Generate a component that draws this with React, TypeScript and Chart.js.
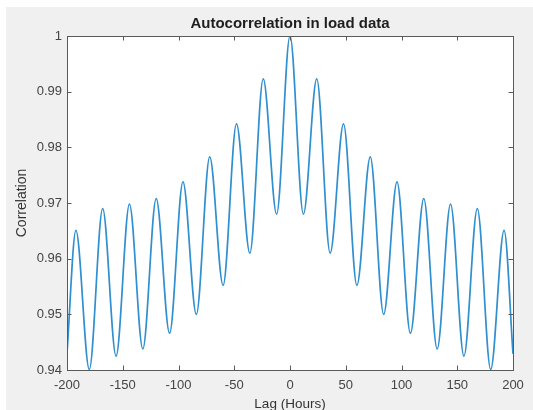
import React, { useEffect, useRef } from "react";
import { Chart, registerables } from "chart.js";

Chart.register(...registerables);

// ---- data ----
const lags = [
  -200, -192, -180, -168, -156, -144, -132, -120, -108, -96, -84, -72, -60, -48, -36, -24, -12,
  0,
  12, 24, 36, 48, 60, 72, 84, 96, 108, 120, 132, 144, 156, 168, 180, 192, 200,
];
const correlation = [
  0.9431, 0.9651, 0.9401, 0.969, 0.9425, 0.9698, 0.9438, 0.9708, 0.9466, 0.9738, 0.95, 0.9783, 0.9552, 0.9842, 0.961, 0.9923, 0.968,
  1.0,
  0.968, 0.9923, 0.961, 0.9842, 0.9552, 0.9783, 0.95, 0.9738, 0.9466, 0.9708, 0.9438, 0.9698, 0.9425, 0.969, 0.9401, 0.9651, 0.9429,
];
const xTicks = [-200, -150, -100, -50, 0, 50, 100, 150, 200];
const yTicks = [0.94, 0.95, 0.96, 0.97, 0.98, 0.99, 1];
const titleText = "Autocorrelation in load data";
const xLabel = "Lag (Hours)";
const yLabel = "Correlation";

const FONT = "'Liberation Sans', Arial, Helvetica, sans-serif";
const AXIS_COLOR = "#5a5a5a";

const boxPlugin = {
  id: "matlabBox",
  beforeDatasetsDraw(chart: any) {
    const { ctx, chartArea: a } = chart;
    ctx.save();
    ctx.fillStyle = "#ffffff";
    ctx.fillRect(a.left, a.top, a.right - a.left, a.bottom - a.top);
    ctx.restore();
  },
  afterDatasetsDraw(chart: any) {
    const { ctx, chartArea: a, scales } = chart;
    const x = scales.x;
    const y = scales.y;
    const len = 4.5;
    ctx.save();
    ctx.strokeStyle = AXIS_COLOR;
    ctx.lineWidth = 1;
    ctx.beginPath();
    xTicks.forEach((v) => {
      const px = Math.round(x.getPixelForValue(v)) + 0.5;
      ctx.moveTo(px, a.bottom);
      ctx.lineTo(px, a.bottom - len);
      ctx.moveTo(px, a.top);
      ctx.lineTo(px, a.top + len);
    });
    yTicks.forEach((v) => {
      const py = Math.round(y.getPixelForValue(v)) + 0.5;
      ctx.moveTo(a.left, py);
      ctx.lineTo(a.left + len, py);
      ctx.moveTo(a.right, py);
      ctx.lineTo(a.right - len, py);
    });
    ctx.stroke();
    ctx.strokeRect(
      Math.round(a.left) + 0.5,
      Math.round(a.top) + 0.5,
      Math.round(a.right - a.left),
      Math.round(a.bottom - a.top)
    );
    ctx.restore();
  },
};

export default function App() {
  const ref = useRef<HTMLCanvasElement | null>(null);

  useEffect(() => {
    if (!ref.current) return;
    const chart = new Chart(ref.current, {
      type: "line",
      data: {
        datasets: [
          {
            data: lags.map((l, i) => ({ x: l, y: correlation[i] })),
            borderColor: "#2f8fcf",
            borderWidth: 1.7,
            pointRadius: 0,
            fill: false,
            cubicInterpolationMode: "monotone",
          },
        ],
      },
      options: {
        animation: false,
        responsive: false,
        maintainAspectRatio: false,
        layout: { padding: { left: 0, right: 20, top: 0, bottom: 0 } },
        plugins: {
          legend: { display: false },
          tooltip: { enabled: false },
          title: {
            display: true,
            text: titleText,
            fullSize: false,
            color: "#1e1e1e",
            font: { family: FONT, size: 15, weight: "bold", lineHeight: 1.2 },
            padding: { top: 7.5, bottom: 3.5 },
          },
        },
        scales: {
          x: {
            type: "linear",
            min: -200,
            max: 200,
            afterBuildTicks: (s: any) => {
              s.ticks = xTicks.map((v) => ({ value: v }));
            },
            afterFit: (s: any) => {
              s.height = 50;
            },
            ticks: {
              color: "#444444",
              font: { family: FONT, size: 13 },
              padding: 8,
              maxRotation: 0,
              autoSkip: false,
            },
            grid: { display: false, drawTicks: false },
            border: { display: false },
            title: {
              display: true,
              text: xLabel,
              color: "#333333",
              font: { family: FONT, size: 13.5, lineHeight: 1.2 },
              padding: { top: 0, bottom: 8 },
            },
          },
          y: {
            type: "linear",
            min: 0.94,
            max: 1,
            afterBuildTicks: (s: any) => {
              s.ticks = yTicks.map((v) => ({ value: v }));
            },
            afterFit: (s: any) => {
              s.width = 61;
            },
            ticks: {
              color: "#444444",
              font: { family: FONT, size: 13 },
              padding: 5,
              autoSkip: false,
              callback: (v: any) => String(Number(Number(v).toFixed(2))),
            },
            grid: { display: false, drawTicks: false },
            border: { display: false },
            title: {
              display: true,
              text: yLabel,
              color: "#333333",
              font: { family: FONT, size: 14, lineHeight: 1.2 },
              padding: { top: 8.1, bottom: 0 },
            },
          },
        },
      },
      plugins: [boxPlugin],
    } as any);
    return () => chart.destroy();
  }, []);

  return (
    <div
      style={{
        position: "fixed",
        left: 0,
        top: 0,
        width: 533,
        height: 410,
        overflow: "hidden",
        background: "#ffffff",
      }}
    >
      <div
        style={{
          position: "absolute",
          left: 6,
          top: 7,
          width: 527,
          height: 413,
          background: "#f0f0f0",
        }}
      >
        <canvas ref={ref} width={527} height={413} style={{ display: "block", width: 527, height: 413 }} />
      </div>
    </div>
  );
}
